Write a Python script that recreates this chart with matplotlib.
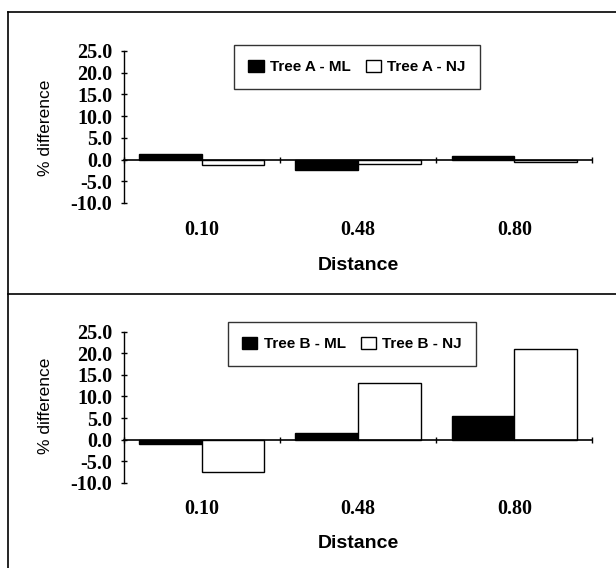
import matplotlib
matplotlib.use("Agg")
import matplotlib.pyplot as plt
from matplotlib.lines import Line2D
from matplotlib.transforms import blended_transform_factory
import numpy as np

categories = ["0.10", "0.48", "0.80"]
tree_a_ml = [1.3, -2.3, 0.9]
tree_a_nj = [-1.2, -1.0, -0.5]
tree_b_ml = [-0.9, 1.5, 5.4]
tree_b_nj = [-7.4, 13.0, 21.0]
yticks = [-10.0, -5.0, 0.0, 5.0, 10.0, 15.0, 20.0, 25.0]
ytick_labels = ["-10.0", "-5.0", "0.0", "5.0", "10.0", "15.0", "20.0", "25.0"]

W, H = 616, 568
fig = plt.figure(figsize=(W / 100, H / 100), dpi=100)

serif = "Liberation Serif"
sans = "Liberation Sans"


def fx(px):
    return px / W


def fy(py):
    return 1 - py / H


AX_L, AX_R = 123.5, 592.5

panels = [
    dict(ml=tree_a_ml, nj=tree_a_nj, labels=("Tree A - ML", "Tree A - NJ"),
         ax_top=51, ax_bot=203, leg=(229, 44, 485, 90), ylab_y=128, dist_y=266, cat_y=230),
    dict(ml=tree_b_ml, nj=tree_b_nj, labels=("Tree B - ML", "Tree B - NJ"),
         ax_top=331.5, ax_bot=483, leg=(225, 322, 479, 366), ylab_y=406, dist_y=543, cat_y=509),
]

x = np.arange(len(categories))
bw = 0.4
for p in panels:
    ax = fig.add_axes([fx(AX_L), fy(p["ax_bot"]), fx(AX_R - AX_L), (p["ax_bot"] - p["ax_top"]) / H])
    ax.set_facecolor("none")
    b1 = ax.bar(x - bw / 2, p["ml"], bw, color="black", edgecolor="black", linewidth=1.0,
                label=p["labels"][0], zorder=2)
    b2 = ax.bar(x + bw / 2, p["nj"], bw, color="white", edgecolor="black", linewidth=1.0,
                label=p["labels"][1], zorder=2)
    ax.set_xlim(-0.5, 2.5)
    ax.set_ylim(-10, 25)
    for s in ["top", "right"]:
        ax.spines[s].set_visible(False)
    ax.spines["bottom"].set_position(("data", 0))
    ax.spines["bottom"].set_linewidth(1.2)
    ax.spines["bottom"].set_zorder(3)
    ax.spines["left"].set_linewidth(1.0)
    ax.set_yticks(yticks)
    ax.set_yticklabels(ytick_labels, fontfamily=serif, fontweight="bold", fontsize=14.5)
    ax.tick_params(axis="y", direction="inout", length=4, width=1, pad=6)
    ax.set_xticks([-0.5, 0.5, 1.5, 2.5])
    ax.set_xticklabels([])
    ax.tick_params(axis="x", direction="inout", length=5, width=1)
    trans = blended_transform_factory(ax.transData, fig.transFigure)
    for xi, c in zip(x, categories):
        ax.text(xi, fy(p["cat_y"]), c, transform=trans, ha="center", va="center",
                fontfamily=serif, fontweight="bold", fontsize=14.5)
    fig.text(fx((AX_L + AX_R) / 2), fy(p["dist_y"]), "Distance", ha="center", va="center",
             fontfamily=sans, fontweight="bold", fontsize=14)
    fig.text(fx(45), fy(p["ylab_y"]), "% difference", ha="center", va="center",
             rotation=90, fontfamily=sans, fontsize=12.5)
    l, t, r, b = p["leg"]
    leg = fig.legend(handles=[b1, b2], loc="center",
                     bbox_to_anchor=(fx((l + r) / 2), fy((t + b) / 2)),
                     ncol=2, frameon=True, fancybox=False,
                     prop=dict(family=sans, weight="bold", size=11),
                     handlelength=1.0, handleheight=0.9, handletextpad=0.4,
                     borderpad=0.95, columnspacing=1.0, borderaxespad=0)
    leg.get_frame().set_edgecolor("black")
    leg.get_frame().set_linewidth(1.0)

# panel borders
fig.add_artist(Line2D([fx(7.5), 1], [fy(12), fy(12)], color="black", lw=1.2, transform=fig.transFigure))
fig.add_artist(Line2D([fx(7.5), 1], [fy(294), fy(294)], color="black", lw=1.2, transform=fig.transFigure))
fig.add_artist(Line2D([fx(7.5), fx(7.5)], [fy(12), 0], color="black", lw=1.2, transform=fig.transFigure))

fig.savefig("out.png", dpi=100)
